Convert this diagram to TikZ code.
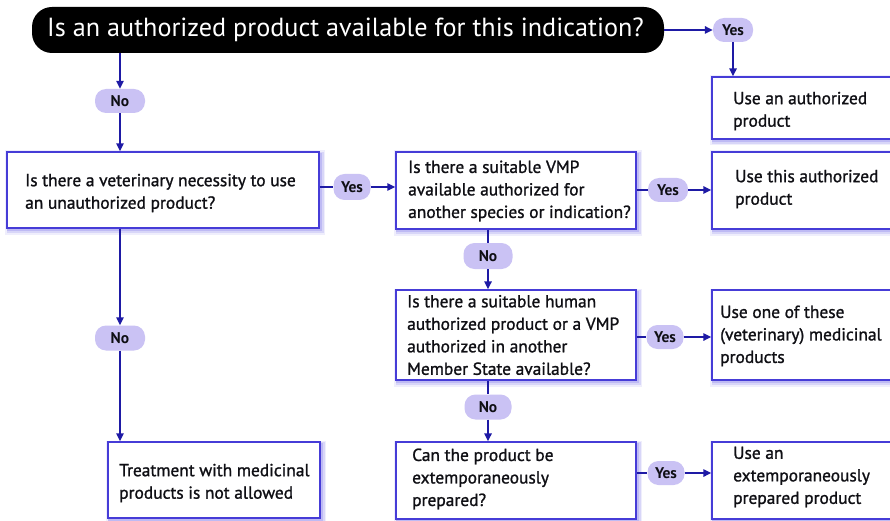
\documentclass[tikz,border=0pt]{standalone}
\usepackage{fontspec}
\setmainfont{PT Sans}
\newfontfamily\boxfont{PT Sans}[FakeBold=1.2]
\usetikzlibrary{arrows.meta}
\definecolor{boxblue}{RGB}{70,60,215}
\definecolor{lineblue}{RGB}{30,26,165}
\definecolor{pillfill}{RGB}{202,194,244}
\definecolor{glowblue}{RGB}{100,90,230}
\definecolor{ink}{RGB}{15,15,20}
\tikzset{
  glow/.style={
    preaction={draw=glowblue, draw opacity=0.10, line width=8pt,
      transform canvas={shift={(2pt,-2.5pt)}}},
    preaction={draw=glowblue, draw opacity=0.16, line width=5pt,
      transform canvas={shift={(2pt,-2.5pt)}}},
    preaction={draw=glowblue, draw opacity=0.22, line width=2.5pt,
      transform canvas={shift={(1.5pt,-2pt)}}}},
  stepbox/.style={rectangle, draw=boxblue, line width=1.4pt, fill=white,
    glow, inner sep=0pt},
  boxtext/.style={anchor=west, align=left, inner sep=0pt, text=ink,
    font=\boxfont\fontsize{17.4}{22.5}\selectfont},
  pill/.style={rectangle, rounded corners=11pt, fill=pillfill, inner sep=0pt,
    minimum height=24pt, text=ink, font=\bfseries\fontsize{15.5}{17}\selectfont},
  link/.style={draw=lineblue, line width=1.5pt},
  arrow/.style={link, -{Triangle[length=8pt,width=7.5pt]}},
}
\begin{document}
\begin{tikzpicture}[x=1pt,y=-1pt]
  % page frame
  \useasboundingbox (0,0) rectangle (890,521);
  \fill[white] (0,0) rectangle (890,521);

  % opening question
  \node[rectangle, rounded corners=20pt, fill=black, minimum width=632pt,
    minimum height=46pt, inner sep=0pt] (top) at (348,30) {};
  \node[anchor=west, inner sep=0pt, text=white,
    font=\fontsize{26.2}{30}\selectfont] (toptext) at (47,30)
    {Is an authorized product available for this indication?};

  % answer boxes
  \node[stepbox, minimum width=188pt, minimum height=62pt] (use0) at (806,108) {};
  \node[boxtext] (use0t) at (733,111) {Use an authorized\\product};

  \node[stepbox, minimum width=312pt, minimum height=76pt] (q1) at (163,190) {};
  \node[boxtext] (q1t) at (25,193) {Is there a veterinary necessity to use\\an unauthorized product?};

  \node[stepbox, minimum width=240pt, minimum height=77pt] (q2) at (516,190.5) {};
  \node[boxtext] (q2t) at (408,191) {Is there a suitable VMP\\available authorized for\\another species or indication?};

  \node[stepbox, minimum width=188pt, minimum height=77pt] (use1) at (806,190.5) {};
  \node[boxtext] (use1t) at (735,189) {Use this authorized\\product};

  \node[stepbox, minimum width=240pt, minimum height=90pt] (q3) at (516,335) {};
  \node[boxtext] (q3t) at (407,335) {Is there a suitable human\\authorized product or a VMP\\authorized in another\\Member State available?};

  \node[stepbox, minimum width=188pt, minimum height=90pt] (use2) at (806,335) {};
  \node[boxtext] (use2t) at (720,336) {Use one of these\\(veterinary) medicinal\\products};

  \node[stepbox, minimum width=240pt, minimum height=77pt] (q4) at (516,480.5) {};
  \node[boxtext] (q4t) at (412,479) {Can the product be\\extemporaneously\\prepared?};

  \node[stepbox, minimum width=188pt, minimum height=77pt] (use3) at (806,480.5) {};
  \node[boxtext] (use3t) at (733,477) {Use an\\extemporaneously\\prepared product};

  \node[stepbox, minimum width=212pt, minimum height=76pt] (stop) at (214,480) {};
  \node[boxtext] (stopt) at (119,483) {Treatment with medicinal\\products is not allowed};

  % yes / no labels
  \node[pill, minimum width=40pt] (y0) at (733,30) {Yes};
  \node[pill, minimum width=50pt] (n0) at (120,101) {No};
  \node[pill, minimum width=37pt, minimum height=26pt] (y1) at (352,187) {Yes};
  \node[pill, minimum width=40pt] (y2) at (668,190) {Yes};
  \node[pill, minimum width=49pt, minimum height=26pt] (n2) at (488,256) {No};
  \node[pill, minimum width=37pt] (y3) at (665,337) {Yes};
  \node[pill, minimum width=47pt, minimum height=25pt] (n3) at (488,407) {No};
  \node[pill, minimum width=37pt] (y4) at (666,473) {Yes};
  \node[pill, minimum width=50pt, minimum height=25pt] (n4) at (120,338) {No};

  % connectors
  \draw[arrow] (top.east |- y0) -- (y0.west);
  \draw[arrow] (y0.south) -- (y0.south |- use0.north);
  \draw[arrow] (n0.north |- top.south) -- (n0.north);
  \draw[arrow] (n0.south) -- (n0.south |- q1.north);

  \draw[link] (q1.east |- y1) -- (y1.west);
  \draw[arrow] (y1.east) -- (y1.east -| q2.west);
  \draw[link] (q2.east |- y2) -- (y2.west);
  \draw[arrow] (y2.east) -- (y2.east -| use1.west);

  \draw[link] (n2.north |- q2.south) -- (n2.north);
  \draw[arrow] (n2.south) -- (n2.south |- q3.north);
  \draw[link] (q3.east |- y3) -- (y3.west);
  \draw[arrow] (y3.east) -- (y3.east -| use2.west);

  \draw[link] (n3.north |- q3.south) -- (n3.north);
  \draw[arrow] (n3.south) -- (n3.south |- q4.north);
  \draw[link] (q4.east |- y4) -- (y4.west);
  \draw[arrow] (y4.east) -- (y4.east -| use3.west);

  \draw[arrow] (n4.north |- q1.south) -- (n4.north);
  \draw[arrow] (n4.south) -- (n4.south |- stop.north);
\end{tikzpicture}
\end{document}
